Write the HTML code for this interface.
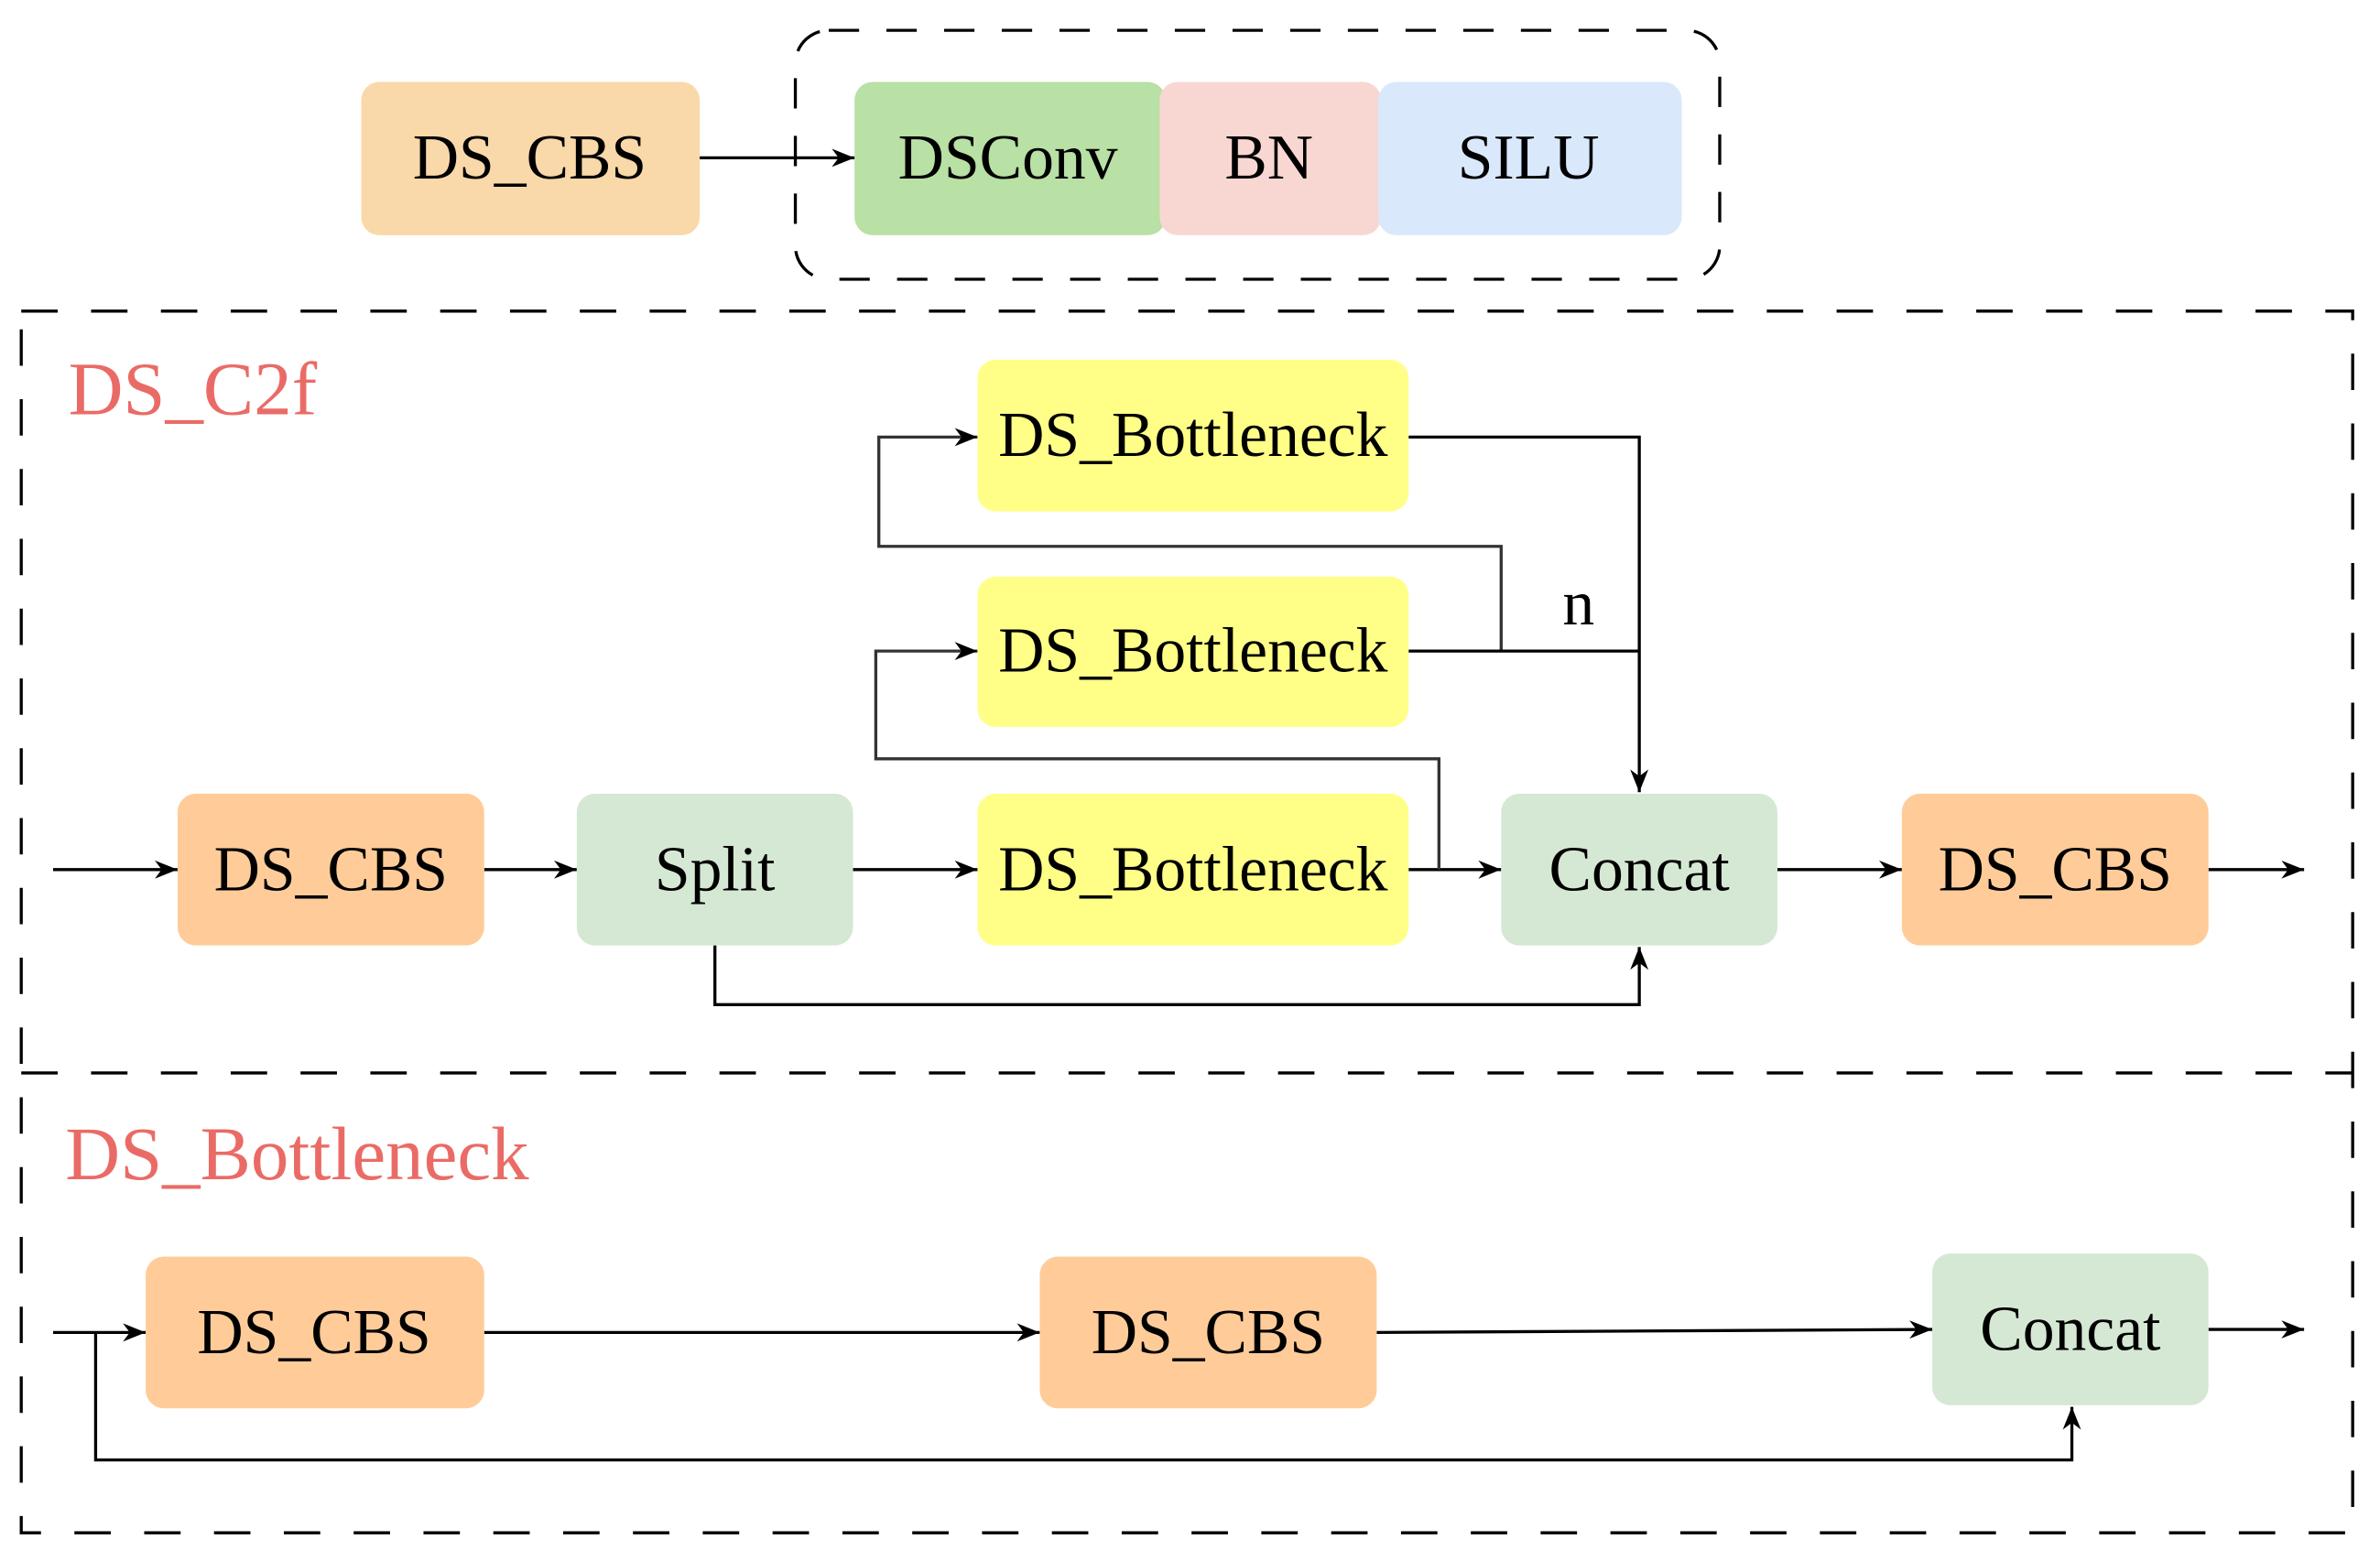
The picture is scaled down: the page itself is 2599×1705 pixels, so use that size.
<!DOCTYPE html>
<html><head><meta charset="utf-8"><style>
html,body{margin:0;padding:0;background:#fff;}
svg{display:block;}
text{font-family:"Liberation Serif",serif;}
</style></head><body>
<svg width="2599" height="1705" viewBox="0 0 1568 1028.6" preserveAspectRatio="none" xmlns="http://www.w3.org/2000/svg">
<defs>
<marker id="a" viewBox="0 0 10 10" refX="10" refY="5" markerWidth="15" markerHeight="15" markerUnits="userSpaceOnUse" orient="auto">
<path d="M0,1 L10,5 L0,9 L3,5 z" fill="#000"/></marker>
</defs>
<g font-size="42" text-anchor="middle" dominant-baseline="central">
<!-- top -->
<rect x="524" y="20" width="609" height="164" rx="22" fill="none" stroke="#000" stroke-width="2" stroke-dasharray="20,18"/>
<rect x="238" y="54" width="223" height="101" rx="12" fill="#F9D8A9"/>
<text x="349" y="104">DS_CBS</text>
<line x1="461" y1="104" x2="563" y2="104" stroke="#000" stroke-width="2" marker-end="url(#a)"/>
<rect x="563" y="54" width="205" height="101" rx="12" fill="#B9E0A5"/>
<rect x="764" y="54" width="146" height="101" rx="12" fill="#F8D7D3"/>
<rect x="908" y="54" width="200" height="101" rx="12" fill="#DAE8FC"/>
<text x="664" y="104">DSConv</text>
<text x="836" y="104">BN</text>
<text x="1007" y="104">SILU</text>
<!-- big dashed -->
<rect x="14" y="205" width="1536" height="805" fill="none" stroke="#000" stroke-width="2" stroke-dasharray="24,22"/>
<line x1="14" y1="707" x2="1550" y2="707" stroke="#000" stroke-width="2" stroke-dasharray="24,22"/>
<text x="45" y="256" text-anchor="start" font-size="50" fill="#EA6B66">DS_C2f</text>
<text x="43" y="760" text-anchor="start" font-size="50" fill="#EA6B66">DS_Bottleneck</text>
<!-- C2f -->
<g fill="none" stroke="#000" stroke-width="2">
<polyline points="35,573 117,573" marker-end="url(#a)"/>
<polyline points="319,573 380,573" marker-end="url(#a)"/>
<polyline points="562,573 644,573" marker-end="url(#a)"/>
<polyline points="928,573 989,573" marker-end="url(#a)"/>
<polyline points="1171,573 1253,573" marker-end="url(#a)"/>
<polyline points="1455,573 1518,573" marker-end="url(#a)"/>
<polyline points="471,623 471,662 1080,662 1080,624" marker-end="url(#a)"/>
<polyline points="989,429 989,360 579,360 579,288 644,288" marker-end="url(#a)" stroke="#333"/>
<polyline points="948,573 948,500 577,500 577,429 644,429" marker-end="url(#a)" stroke="#333"/>
<polyline points="928,288 1080,288 1080,522" marker-end="url(#a)"/>
<polyline points="928,429 1080,429"/>
<!-- bottom -->
<polyline points="35,878 96,878" marker-end="url(#a)"/>
<polyline points="319,878 685,878" marker-end="url(#a)"/>
<polyline points="907,878 1273,876" marker-end="url(#a)"/>
<polyline points="1455,876 1518,876" marker-end="url(#a)"/>
<polyline points="63,878 63,962 1365,962 1365,927" marker-end="url(#a)"/>
</g>
<text x="1040" y="398">n</text>
<rect x="644" y="237" width="284" height="100" rx="12" fill="#FFFF88"/>
<rect x="644" y="380" width="284" height="99" rx="12" fill="#FFFF88"/>
<rect x="644" y="523" width="284" height="100" rx="12" fill="#FFFF88"/>
<text x="786" y="287">DS_Bottleneck</text>
<text x="786" y="429">DS_Bottleneck</text>
<text x="786" y="573">DS_Bottleneck</text>
<rect x="117" y="523" width="202" height="100" rx="12" fill="#FFCC99"/>
<text x="218" y="573">DS_CBS</text>
<rect x="380" y="523" width="182" height="100" rx="12" fill="#D5E8D4"/>
<text x="471" y="573">Split</text>
<rect x="989" y="523" width="182" height="100" rx="12" fill="#D5E8D4"/>
<text x="1080" y="573">Concat</text>
<rect x="1253" y="523" width="202" height="100" rx="12" fill="#FFCC99"/>
<text x="1354" y="573">DS_CBS</text>
<rect x="96" y="828" width="223" height="100" rx="12" fill="#FFCC99"/>
<text x="207" y="878">DS_CBS</text>
<rect x="685" y="828" width="222" height="100" rx="12" fill="#FFCC99"/>
<text x="796" y="878">DS_CBS</text>
<rect x="1273" y="826" width="182" height="100" rx="12" fill="#D5E8D4"/>
<text x="1364" y="876">Concat</text>
</g>
</svg>
</body></html>
